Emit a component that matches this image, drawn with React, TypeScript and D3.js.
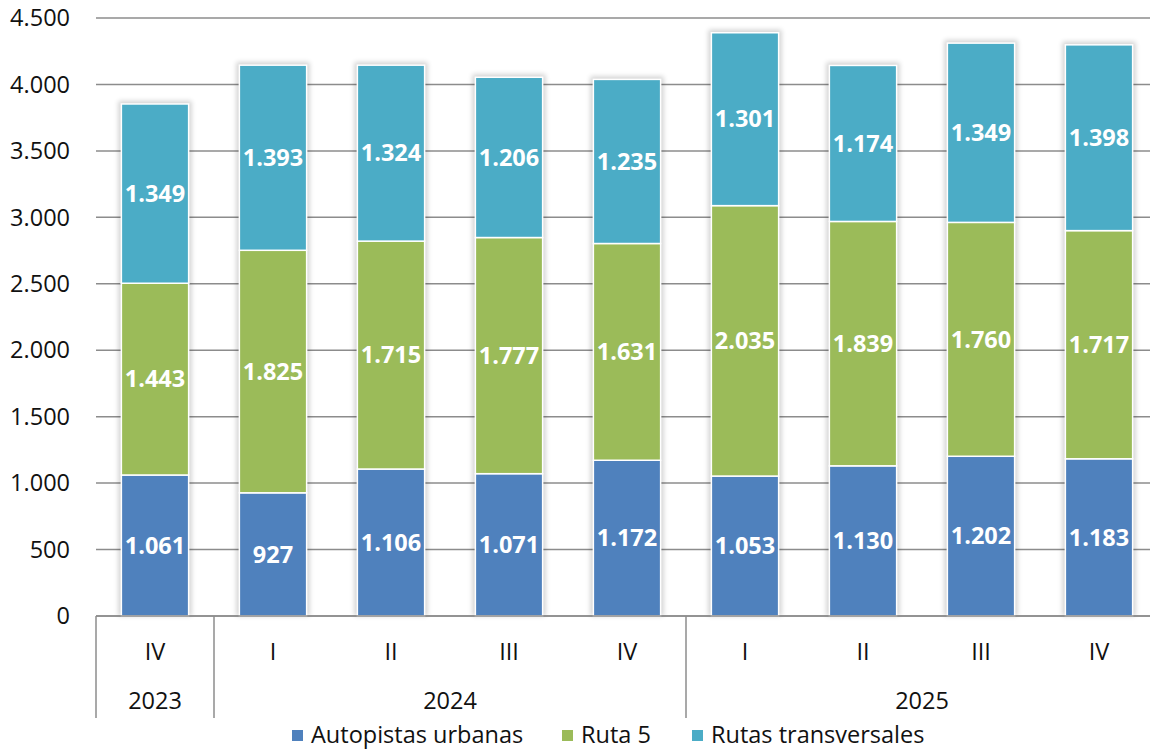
import React from "react";
import * as d3 from "d3";

const quarters = ["IV", "I", "II", "III", "IV", "I", "II", "III", "IV"];
const years = [
  { label: "2023", from: 0, to: 1 },
  { label: "2024", from: 1, to: 5 },
  { label: "2025", from: 5, to: 9 },
];
const autopistas = [1061, 927, 1106, 1071, 1172, 1053, 1130, 1202, 1183];
const ruta5 = [1443, 1825, 1715, 1777, 1631, 2035, 1839, 1760, 1717];
const transversales = [1349, 1393, 1324, 1206, 1235, 1301, 1174, 1349, 1398];
const seriesNames = ["Autopistas urbanas", "Ruta 5", "Rutas transversales"];
const colors = ["#4F81BD", "#9BBB59", "#4BACC6"];
const yTicks = [0, 500, 1000, 1500, 2000, 2500, 3000, 3500, 4000, 4500];

const fmt = (v: number) => d3.format(",")(v).replace(/,/g, ".");

export default function App() {
  const width = 1150;
  const height = 750;
  const left = 96;
  const x = d3.scaleBand<number>().domain(d3.range(9)).range([left, left + 9 * 118]).paddingInner(0.43).paddingOuter(0.215);
  const y = d3.scaleLinear().domain([0, 4500]).range([616, 18]);
  const step = x.step();

  const rows = quarters.map((q, i) => ({ i, a: autopistas[i], r: ruta5[i], t: transversales[i] }));
  const layers = d3.stack<any>().keys(["a", "r", "t"])(rows);
  const font = "Open Sans, sans-serif";
  const fs = 23.5;

  return (
    <svg width={width} height={height} style={{ position: "absolute", left: 0, top: 0, background: "#fff" }}>
      <defs>
        <filter id="sh" x="-20%" y="-5%" width="140%" height="110%">
          <feGaussianBlur in="SourceAlpha" stdDeviation="2.5" />
          <feComponentTransfer><feFuncA type="linear" slope="0.18" /></feComponentTransfer>
        </filter>
      </defs>
      {yTicks.map((t) => (
        <g key={t}>
          <line x1={left} x2={width} y1={y(t)} y2={y(t)} stroke="#8c8c8c" strokeWidth={1.5} />
          <text x={70} y={y(t)} dy="0.35em" textAnchor="end" fontSize={fs} fontFamily={font} fill="#111">{fmt(t)}</text>
        </g>
      ))}
      {rows.map((d) => {
        const top = y(d.a + d.r + d.t);
        return (
          <rect key={"s" + d.i} x={x(d.i)! - 3} y={top - 3} width={x.bandwidth() + 6} height={616 - top + 3} fill="#000" filter="url(#sh)" />
        );
      })}
      {layers.map((layer, li) => (
        <g key={li}>
          {layer.map((s, i) => {
            const y0 = y(s[0]);
            const y1 = y(s[1]);
            return (
              <g key={i}>
                <rect x={x(i)!} y={y1} width={x.bandwidth()} height={y0 - y1} fill={colors[li]} stroke="#fff" strokeWidth={1.5} />
                <text x={x(i)! + x.bandwidth() / 2} y={(y0 + y1) / 2} dy="0.35em" textAnchor="middle" fontSize={fs} fontWeight="bold" fontFamily={font} fill="#fff">
                  {fmt(s[1] - s[0])}
                </text>
              </g>
            );
          })}
        </g>
      ))}
      <line x1={left} x2={width} y1={616} y2={616} stroke="#8c8c8c" strokeWidth={1.5} />
      {quarters.map((q, i) => (
        <text key={"q" + i} x={x(i)! + x.bandwidth() / 2} y={652} dy="0.35em" textAnchor="middle" fontSize={fs} fontFamily={font} fill="#111">{q}</text>
      ))}
      {years.map((yr) => (
        <g key={yr.label}>
          <line x1={left + yr.from * step} x2={left + yr.from * step} y1={616} y2={718} stroke="#8c8c8c" strokeWidth={1.5} />
          <text x={left + ((yr.from + yr.to) / 2) * step} y={701} dy="0.35em" textAnchor="middle" fontSize={fs} fontFamily={font} fill="#111">{yr.label}</text>
        </g>
      ))}
      {seriesNames.map((n, i) => {
        const lx = [292, 562, 692][i];
        return (
          <g key={n}>
            <rect x={lx} y={730} width={11} height={11} fill={colors[i]} />
            <text x={lx + 19} y={735} dy="0.35em" fontSize={fs} fontFamily={font} fill="#111">{n}</text>
          </g>
        );
      })}
    </svg>
  );
}
